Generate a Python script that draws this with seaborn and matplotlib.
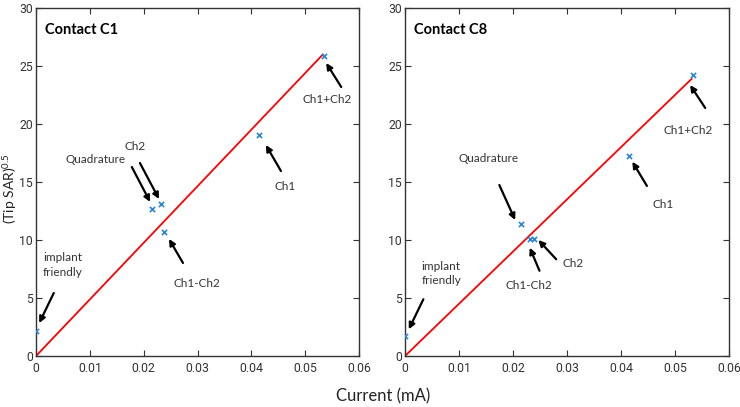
import matplotlib
matplotlib.use("Agg")
import matplotlib.pyplot as plt
import seaborn as sns
import pandas as pd

# ---- data ----
labels = ["implant friendly", "Quadrature", "Ch2", "Ch1-Ch2", "Ch1", "Ch1+Ch2"]
c1_current = [0.0, 0.0215, 0.0232, 0.0238, 0.0414, 0.0535]
c1_sar = [2.15, 12.67, 13.08, 10.66, 19.05, 25.9]
c8_current = [0.0, 0.0215, 0.0238, 0.0231, 0.0415, 0.0534]
c8_sar = [1.72, 11.4, 10.06, 10.06, 17.27, 24.2]
c1_fit_current = [0.0, 0.0533]
c1_fit_sar = [0.0, 26.0]
c8_fit_current = [0.0, 0.0531]
c8_fit_sar = [0.0, 23.9]
titles = ["Contact C1", "Contact C8"]
x_ticks = [0, 0.01, 0.02, 0.03, 0.04, 0.05, 0.06]
x_ticklabels = ["0", "0.01", "0.02", "0.03", "0.04", "0.05", "0.06"]
y_ticks = [0, 5, 10, 15, 20, 25, 30]

# ---- annotation layout (label text pos, arrow head, arrow tail) ----
c1_notes = {
    "Ch1+Ch2": ((0.0541, 22.07), (0.0539, 25.26), (0.0567, 23.19)),
    "Ch1": ((0.0463, 14.57), (0.0427, 18.19), (0.0455, 15.95)),
    "Ch2": ((0.0184, 18.02), (0.02285, 13.53), (0.0193, 16.64)),
    "Quadrature": ((0.0110, 16.9), (0.0212, 13.28), (0.0178, 16.29)),
    "Ch1-Ch2": ((0.0299, 6.29), (0.0247, 10.09), (0.0273, 8.02)),
    "implant\nfriendly": ((0.0013, 7.85), (0.0006, 2.84), (0.0033, 5.43)),
}
c8_notes = {
    "Ch1+Ch2": ((0.0525, 19.4), (0.0528, 23.36), (0.0556, 21.38)),
    "Ch1": ((0.0478, 13.1), (0.0421, 16.75), (0.0448, 14.66)),
    "Quadrature": ((0.01556, 17.04), (0.0204, 11.72), (0.01747, 14.74)),
    "Ch2": ((0.0312, 7.99), (0.0247, 10.0), (0.028, 8.34)),
    "Ch1-Ch2": ((0.0230, 6.12), (0.0231, 9.34), (0.0249, 7.35)),
    "implant\nfriendly": ((0.0031, 7.1), (0.0007, 2.3), (0.0034, 4.89)),
}

sns.set_theme(style="ticks")
plt.rcParams["font.family"] = ["Lato", "DejaVu Sans"]
plt.rcParams["mathtext.fontset"] = "custom"
plt.rcParams["mathtext.rm"] = "Lato"
plt.rcParams["mathtext.it"] = "Lato"

tick_font = dict(family=["Roboto", "DejaVu Sans"], size=8.8, color="#333333")

fig = plt.figure(figsize=(7.4, 4.07), dpi=100)
ax1 = fig.add_axes([36 / 740, 1 - 356 / 407, 323 / 740, 348 / 407])
ax2 = fig.add_axes([405 / 740, 1 - 356 / 407, 324 / 740, 348 / 407])

panels = [
    (ax1, c1_current, c1_sar, c1_fit_current, c1_fit_sar, c1_notes, titles[0]),
    (ax2, c8_current, c8_sar, c8_fit_current, c8_fit_sar, c8_notes, titles[1]),
]

for ax, cx, cy, fx, fy, notes, title in panels:
    df_fit = pd.DataFrame({"current": fx, "sar": fy})
    sns.lineplot(data=df_fit, x="current", y="sar", ax=ax, color="#ff0000", lw=1.3)
    df = pd.DataFrame({"current": cx, "sar": cy, "label": labels})
    sns.scatterplot(data=df, x="current", y="sar", ax=ax, marker="x", s=14,
                    color="#2b86d8", linewidth=1.2, zorder=5)
    ax.set_xlim(0, 0.06)
    ax.set_ylim(0, 30)
    ax.set_xticks(x_ticks)
    ax.set_xticklabels(x_ticklabels, fontdict=tick_font)
    ax.set_yticks(y_ticks)
    ax.set_yticklabels([str(v) for v in y_ticks], fontdict=tick_font)
    ax.tick_params(direction="in", top=True, right=True, length=4, width=0.8,
                   color="#333333", pad=4)
    ax.tick_params(axis="y", pad=2)
    for s in ax.spines.values():
        s.set_color("#333333")
        s.set_linewidth(1.0)
    ax.set_xlabel("")
    ax.set_ylabel("")
    ax.text(0.0016, 28.1, title, fontsize=10.5, fontweight="bold", va="center", ha="left",
            color="black")
    for txt, (tpos, head, tail) in notes.items():
        ax.annotate("", xy=head, xytext=tail,
                    arrowprops=dict(arrowstyle="-|>", color="black", lw=1.6,
                                    mutation_scale=9, shrinkA=0, shrinkB=0))
        ha = "left" if txt.startswith("implant") else "center"
        ax.text(tpos[0], tpos[1], txt, fontsize=8.5, ha=ha, va="center",
                color="#333333", linespacing=1.35)

fig.text(10 / 740, 1 - 189 / 407, "(Tip SAR)$^{0.5}$", rotation=90, ha="center",
         va="center", fontsize=10, color="#222222")
fig.text(383 / 740, 1 - 396 / 407, "Current (mA)", ha="center", va="center",
         fontsize=12, color="#222222")

fig.savefig("out.png", dpi=100)
